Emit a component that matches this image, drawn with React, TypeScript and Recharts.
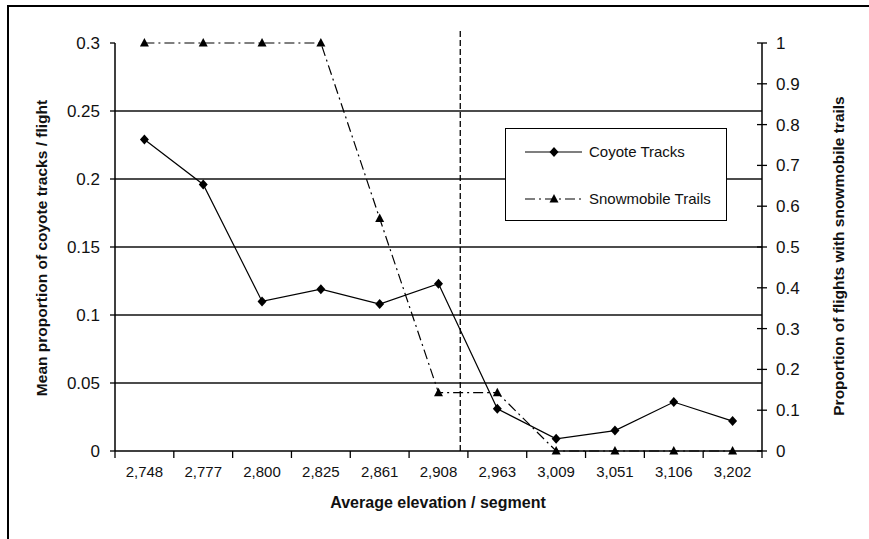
import { Legend, Line, LineChart, ReferenceLine, XAxis, YAxis } from "recharts";

const elevations = ["2,748", "2,777", "2,800", "2,825", "2,861", "2,908", "2,963", "3,009", "3,051", "3,106", "3,202"];
const coyoteTracks = [0.229, 0.196, 0.11, 0.119, 0.108, 0.123, 0.031, 0.009, 0.015, 0.036, 0.022];
const snowmobileTrails = [1, 1, 1, 1, 0.57, 0.143, 0.143, 0, 0, 0, 0];
const leftTicks = [0, 0.05, 0.1, 0.15, 0.2, 0.25, 0.3];
const rightTicks = [0, 0.1, 0.2, 0.3, 0.4, 0.5, 0.6, 0.7, 0.8, 0.9, 1];
const gridValues = [0.05, 0.1, 0.15, 0.2, 0.25];
// dashed threshold sits a bit right of the 2,908 segment
const thresholdPosition = 5.37;

const data = elevations.map((elev, i) => ({
  idx: i,
  elev,
  coyote: coyoteTracks[i],
  snow: snowmobileTrails[i],
}));

const labelTicks = elevations.map((_, i) => i);

const FONT = '"Liberation Sans", Arial, sans-serif';
const SNOW_DASH = "10 4 2 4";
const X_TICK_MARGIN = 15;

function Diamond({ cx, cy }: { cx: number; cy: number }) {
  return <path d={`M${cx},${cy - 5}L${cx + 4.5},${cy}L${cx},${cy + 5}L${cx - 4.5},${cy}Z`} fill="#000" />;
}

function Triangle({ cx, cy }: { cx: number; cy: number }) {
  return <path d={`M${cx},${cy - 5}L${cx + 4.5},${cy + 3.5}L${cx - 4.5},${cy + 3.5}Z`} fill="#000" />;
}

// category label in the middle, tick marks on the segment boundaries (Excel style)
function ElevationTick({ x, y, payload, index, width }: any) {
  const half = (Number(width) || 647) / elevations.length / 2;
  const axisY = y - X_TICK_MARGIN;
  const last = index === elevations.length - 1;
  return (
    <g>
      <line x1={x - half} x2={x - half} y1={axisY} y2={axisY + 7} stroke="#000" strokeWidth={1.3} />
      {last && <line x1={x + half} x2={x + half} y1={axisY} y2={axisY + 7} stroke="#000" strokeWidth={1.3} />}
      <text x={x} y={y} dy="0.71em" textAnchor="middle" fontSize={15} fill="#111" fontFamily={FONT}>
        {elevations[payload.value]}
      </text>
    </g>
  );
}

function RightTick({ x, y, payload }: any) {
  return (
    <g>
      <line x1={x - 19} x2={x - 9} y1={y} y2={y} stroke="#000" strokeWidth={1.3} />
      <text x={x} y={y} dy="0.355em" fontSize={17} fill="#111" fontFamily={FONT}>
        {payload.value}
      </text>
    </g>
  );
}

function LegendBox() {
  const rows = [
    { name: "Coyote Tracks", dash: undefined, marker: "diamond" },
    { name: "Snowmobile Trails", dash: SNOW_DASH, marker: "triangle" },
  ];
  return (
    <div style={{ position: "relative", width: "100%", height: "100%" }}>
      {rows.map((r, i) => (
        <div key={r.name} style={{ position: "absolute", left: 0, top: 12 + i * 47, height: 22, width: "100%" }}>
          <svg width={80} height={22} style={{ position: "absolute", left: 0, top: 0 }}>
            <line x1={19} x2={76} y1={11} y2={11} stroke="#000" strokeWidth={1.2} strokeDasharray={r.dash} />
            {r.marker === "diamond" ? <Diamond cx={48} cy={11} /> : <Triangle cx={48} cy={11} />}
          </svg>
          <span
            style={{
              position: "absolute",
              left: 83,
              top: 2,
              fontSize: 15,
              fontFamily: FONT,
              color: "#111",
              whiteSpace: "nowrap",
            }}
          >
            {r.name}
          </span>
        </div>
      ))}
    </div>
  );
}

const titleStyle = {
  position: "absolute" as const,
  fontFamily: FONT,
  fontWeight: 700,
  fontSize: 15.5,
  color: "#111",
  whiteSpace: "nowrap" as const,
};

export default function App() {
  return (
    <div
      style={{
        position: "absolute",
        left: 0,
        top: 0,
        width: 869,
        height: 539,
        overflow: "hidden",
        background: "#fff",
      }}
    >
      <div
        style={{
          position: "absolute",
          left: 7,
          top: 5,
          width: 900,
          height: 600,
          borderTop: "2px solid #000",
          borderLeft: "2px solid #000",
        }}
      />
      <div style={{ position: "absolute", left: 0, top: 0 }}>
        <LineChart width={869} height={539} data={data} margin={{ top: 43, right: 47, bottom: 57, left: 55 }}>
          <XAxis
            type="number"
            dataKey="idx"
            domain={[-0.5, 10.5]}
            ticks={labelTicks}
            tickSize={0}
            tickMargin={X_TICK_MARGIN}
            height={31}
            axisLine={{ stroke: "#000", strokeWidth: 1.5 }}
            tickLine={false}
            interval={0}
            tick={<ElevationTick />}
          />
          <YAxis
            yAxisId="left"
            orientation="left"
            domain={[0, 0.3]}
            ticks={leftTicks}
            width={60}
            tickSize={5}
            tickMargin={10}
            interval={0}
            axisLine={{ stroke: "#000", strokeWidth: 1.5 }}
            tickLine={{ stroke: "#000", strokeWidth: 1.3 }}
            tick={{ fontSize: 17, fill: "#111", fontFamily: FONT }}
          />
          <YAxis
            yAxisId="right"
            orientation="right"
            domain={[0, 1]}
            ticks={rightTicks}
            width={60}
            tickSize={5}
            tickMargin={9}
            interval={0}
            axisLine={{ stroke: "#000", strokeWidth: 1.5 }}
            tickLine={false}
            tick={<RightTick />}
          />
          {gridValues.map((v) => (
            <ReferenceLine key={v} yAxisId="left" y={v} stroke="#111" strokeWidth={1.3} />
          ))}
          <ReferenceLine
            yAxisId="left"
            segment={[
              { x: thresholdPosition, y: 0 },
              { x: thresholdPosition, y: 0.309 },
            ]}
            ifOverflow="visible"
            stroke="#000"
            strokeWidth={1.3}
            strokeDasharray="6 3"
          />
          <Line
            yAxisId="left"
            dataKey="coyote"
            name="Coyote Tracks"
            stroke="#000"
            strokeWidth={1.2}
            dot={(p: any) => <Diamond key={`c${p.index}`} cx={p.cx} cy={p.cy} />}
            activeDot={false}
            isAnimationActive={false}
          />
          <Line
            yAxisId="right"
            dataKey="snow"
            name="Snowmobile Trails"
            stroke="#000"
            strokeWidth={1.2}
            strokeDasharray={SNOW_DASH}
            dot={(p: any) => <Triangle key={`s${p.index}`} cx={p.cx} cy={p.cy} />}
            activeDot={false}
            isAnimationActive={false}
          />
          <Legend
            layout="horizontal"
            verticalAlign="middle"
            align="center"
            content={() => <LegendBox />}
            wrapperStyle={{
              left: 505,
              top: 128,
              width: 222,
              height: 93,
              border: "1.5px solid #000",
              background: "#fff",
              boxSizing: "border-box",
            }}
          />
        </LineChart>
      </div>
      <div style={{ ...titleStyle, left: 42, top: 248, transform: "translate(-50%, -50%) rotate(-90deg)" }}>
        Mean proportion of coyote tracks / flight
      </div>
      <div style={{ ...titleStyle, left: 839, top: 256, transform: "translate(-50%, -50%) rotate(-90deg)" }}>
        Proportion of flights with snowmobile trails
      </div>
      <div style={{ ...titleStyle, fontSize: 16, left: 438, top: 503, transform: "translate(-50%, -50%)" }}>
        Average elevation / segment
      </div>
    </div>
  );
}
